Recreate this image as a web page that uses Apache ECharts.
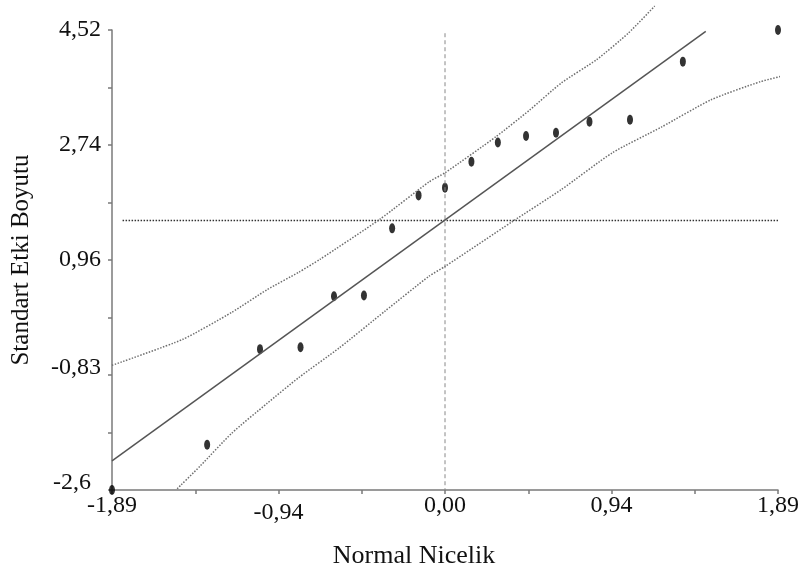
<!DOCTYPE html>
<html>
<head>
<meta charset="utf-8">
<title>Normal Q-Q</title>
<script src="https://cdn.jsdelivr.net/npm/echarts@6/dist/echarts.min.js"></script>
<style>
  html, body { margin: 0; padding: 0; background: #fff; }
  #chart { width: 802px; height: 574px; }
</style>
</head>
<body>
<div id="chart"></div>
<script>
// normal quantiles (x) vs standardised effect sizes (y)
var quantiles = [-1.89, -1.35, -1.05, -0.82, -0.63, -0.46, -0.30, -0.15, 0.00,
                 0.15, 0.30, 0.46, 0.63, 0.82, 1.05, 1.35, 1.89];
var effects = [-2.60, -1.90, -0.42, -0.39, 0.40, 0.41, 1.45, 1.96, 2.08,
               2.48, 2.78, 2.88, 2.93, 3.10, 3.13, 4.03, 4.52];

// fitted line and confidence band
var fitLine = [[-1.89, -2.15], [1.48, 4.50]];
var upperBand = [[-1.89, -0.67], [-1.49, -0.27], [-1.21, 0.15], [-1.01, 0.50], [-0.83, 0.77],
                 [-0.71, 0.97], [-0.37, 1.59], [-0.09, 2.17], [0.00, 2.31], [0.29, 2.87],
                 [0.48, 3.28], [0.66, 3.70], [0.86, 4.06], [1.04, 4.47], [1.19, 4.89]];
var lowerBand = [[-1.52, -2.58], [-1.39, -2.23], [-1.21, -1.72], [-1.01, -1.26], [-0.83, -0.86],
                 [-0.60, -0.40], [-0.34, 0.17], [-0.09, 0.71], [0.00, 0.86], [0.38, 1.55],
                 [0.66, 2.05], [0.95, 2.62], [1.23, 3.02], [1.51, 3.44], [1.79, 3.72], [1.95, 3.83]];
var meanLine = [[-1.83, 1.57], [1.89, 1.57]];
var zeroLine = [[0, 4.47], [0, -2.6]];

// axis ticks
var xTickValues = [-1.89, -1.4175, -0.945, -0.4725, 0, 0.4725, 0.945, 1.4175, 1.89];
var xLabelValues = [-1.89, -0.945, 0, 0.945, 1.89];
var xTickLabels = ['-1,89', '-0,94', '0,00', '0,94', '1,89'];
var yTickValues = [-2.6, -1.71, -0.82, 0.07, 0.96, 1.85, 2.74, 3.63, 4.52];
var yLabelValues = [-2.6, -0.82, 0.96, 2.74, 4.52];
var yTickLabels = ['-2,6', '-0,83', '0,96', '2,74', '4,52'];

var FONT = "'Liberation Serif', 'Times New Roman', serif";

function pickLabel(values, labels, v) {
  var best = 0;
  for (var i = 1; i < values.length; i++) {
    if (Math.abs(values[i] - v) < Math.abs(values[best] - v)) best = i;
  }
  return labels[best];
}

var chart = echarts.init(document.getElementById('chart'), null, { renderer: 'canvas' });

var axisLineStyle = { color: '#7a7a7a', width: 1.5 };

var option = {
  animation: false,
  backgroundColor: '#fff',
  grid: { left: 112, right: 22, top: 30, bottom: 83 },
  xAxis: {
    type: 'value',
    min: -1.89,
    max: 1.89,
    name: 'Normal Nicelik',
    nameLocation: 'middle',
    nameGap: 53,
    nameTextStyle: { fontFamily: FONT, fontSize: 26, color: '#111', padding: [0, 62, 0, 0] },
    axisLine: { show: true, onZero: false, lineStyle: axisLineStyle },
    axisTick: { show: true, length: 4, customValues: xTickValues, lineStyle: axisLineStyle },
    axisLabel: {
      customValues: xLabelValues,
      margin: 4,
      fontFamily: FONT,
      fontSize: 24,
      color: '#111',
      formatter: function (v) {
        var t = pickLabel(xLabelValues, xTickLabels, v);
        return t === '-0,94' ? '{low|' + t + '}' : t;
      },
      rich: { low: { fontFamily: FONT, fontSize: 24, color: '#111', padding: [7, 0, 0, 0] } }
    },
    splitLine: { show: false }
  },
  yAxis: {
    type: 'value',
    min: -2.6,
    max: 4.52,
    name: 'Standart Etki Boyutu',
    nameLocation: 'middle',
    nameGap: 78,
    nameTextStyle: { fontFamily: FONT, fontSize: 25, color: '#111' },
    axisLine: { show: true, onZero: false, lineStyle: axisLineStyle },
    axisTick: { show: true, length: 4, customValues: yTickValues, lineStyle: axisLineStyle },
    axisLabel: {
      customValues: yLabelValues,
      margin: 11,
      fontFamily: FONT,
      fontSize: 24,
      color: '#111',
      formatter: function (v) {
        var t = pickLabel(yLabelValues, yTickLabels, v);
        if (t === '-2,6') return '{bot|' + t + '}';
        if (t === '-0,83') return '{up|' + t + '}';
        return t;
      },
      rich: {
        bot: { fontFamily: FONT, fontSize: 24, color: '#111', padding: [0, 10, 14, 0] },
        up: { fontFamily: FONT, fontSize: 24, color: '#111', padding: [0, 0, 14, 0] }
      }
    },
    splitLine: { show: false }
  },
  series: [
    {
      name: 'zero',
      type: 'line',
      data: zeroLine,
      showSymbol: false,
      silent: true,
      lineStyle: { color: '#888', width: 1, type: [4, 3] }
    },
    {
      name: 'mean',
      type: 'line',
      data: meanLine,
      showSymbol: false,
      silent: true,
      lineStyle: { color: '#333', width: 1.5, type: [1.5, 1.5] }
    },
    {
      name: 'upper',
      type: 'line',
      data: upperBand,
      smooth: 0.2,
      clip: false,
      showSymbol: false,
      silent: true,
      lineStyle: { color: '#6e6e6e', width: 1.5, type: [1.5, 1.5] }
    },
    {
      name: 'lower',
      type: 'line',
      data: lowerBand,
      smooth: 0.2,
      clip: false,
      showSymbol: false,
      silent: true,
      lineStyle: { color: '#6e6e6e', width: 1.5, type: [1.5, 1.5] }
    },
    {
      name: 'fit',
      type: 'line',
      data: fitLine,
      showSymbol: false,
      silent: true,
      lineStyle: { color: '#555', width: 1.5 }
    },
    {
      name: 'points',
      type: 'scatter',
      data: quantiles.map(function (q, i) { return [q, effects[i]]; }),
      symbol: 'circle',
      symbolSize: [6, 10],
      clip: false,
      itemStyle: { color: '#000' }
    }
  ]
};

chart.setOption(option);
</script>
</body>
</html>
